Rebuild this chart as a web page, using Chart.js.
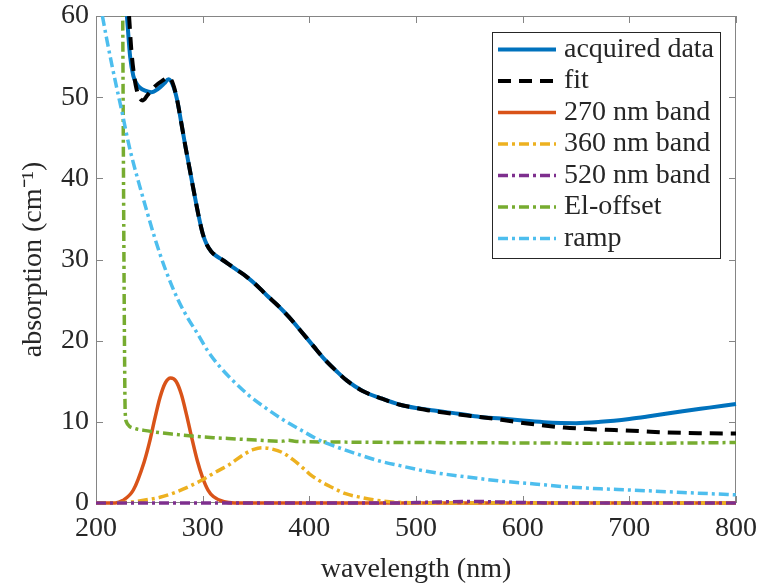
<!DOCTYPE html>
<html>
<head>
<meta charset="utf-8">
<script src="https://cdn.jsdelivr.net/npm/chart.js@4.4.1/dist/chart.umd.min.js"></script>
<style>
html, body { margin: 0; padding: 0; background: #fff; }
#wrap { width: 758px; height: 584px; }
</style>
</head>
<body>
<div id="wrap"><canvas id="myChart" width="758" height="584"></canvas></div>
<script>
const xTicks = [200, 300, 400, 500, 600, 700, 800];
const yTicks = [0, 10, 20, 30, 40, 50, 60];

const acqNm  = [229, 232, 235, 238, 241, 246, 252, 258, 264, 268, 272, 276, 280, 284, 288, 292, 296, 300, 304, 308, 312, 318, 330, 341, 350, 360, 370, 381, 392, 404, 415, 425, 435, 450, 467, 485, 500, 517, 540, 560, 580, 600, 620, 636, 650, 673, 700, 717, 750, 775, 800];
const acqVal = [60, 55, 52.6, 51.7, 51.2, 50.8, 50.6, 51.0, 51.7, 52.2, 51.5, 49.7, 46.8, 43.8, 41.0, 38.2, 35.5, 33.2, 31.8, 31.0, 30.5, 30.0, 28.9, 27.9, 26.9, 25.6, 24.4, 22.9, 21.2, 19.3, 17.6, 16.3, 15.1, 13.8, 12.9, 12.1, 11.7, 11.4, 11.0, 10.6, 10.4, 10.15, 9.95, 9.86, 9.84, 10.0, 10.35, 10.65, 11.3, 11.75, 12.2];

const fitNm  = [231, 233, 235, 238, 241, 244, 248, 255, 262, 268, 272, 276, 280, 284, 288, 292, 296, 300, 304, 308, 312, 318, 330, 341, 350, 360, 370, 381, 392, 404, 415, 425, 435, 450, 467, 485, 500, 517, 540, 560, 580, 598, 617, 639, 664, 686, 710, 733, 765, 800];
const fitVal = [60, 56, 53.4, 51.0, 49.9, 49.6, 50.2, 51.3, 52.0, 52.4, 51.7, 49.7, 46.8, 43.8, 41.0, 38.2, 35.5, 33.2, 31.8, 31.0, 30.5, 30.0, 28.9, 27.9, 26.9, 25.6, 24.4, 22.9, 21.2, 19.3, 17.6, 16.3, 15.1, 13.8, 12.9, 12.1, 11.7, 11.3, 10.9, 10.6, 10.25, 9.9, 9.6, 9.3, 9.1, 8.98, 8.85, 8.7, 8.6, 8.55];

const b270Nm  = [200, 218, 225, 235, 245, 250, 255, 260, 265, 270, 275, 280, 285, 290, 295, 300, 305, 310, 320, 330, 800];
const b270Val = [0, 0, 0.3, 1.6, 5.0, 7.4, 10.3, 13.0, 14.8, 15.4, 15.0, 13.4, 10.8, 7.9, 5.2, 3.1, 1.6, 0.8, 0.15, 0, 0];

const b360Nm  = [200, 230, 250, 260, 271, 285, 299, 312, 324, 340, 348, 356, 365, 375, 385, 395, 400, 410, 420, 434, 448, 460, 475, 490, 510, 800];
const b360Val = [0, 0.1, 0.45, 0.7, 1.15, 1.9, 2.8, 3.8, 4.65, 6.1, 6.6, 6.8, 6.65, 6.2, 5.3, 4.2, 3.6, 2.7, 2.0, 1.15, 0.7, 0.4, 0.15, 0.05, 0, 0];

const b520Nm  = [200, 480, 510, 530, 550, 570, 600, 640, 800];
const b520Val = [0, 0, 0.08, 0.15, 0.2, 0.15, 0.06, 0, 0];

const elNm  = [225, 225.6, 226.2, 226.8, 227.3, 228.5, 231, 236, 245, 255, 271, 290, 310, 324, 350, 374, 380, 386, 400, 434, 500, 600, 700, 800];
const elVal = [62, 45, 30, 18, 11.5, 10.0, 9.5, 9.2, 8.95, 8.75, 8.5, 8.25, 8.05, 7.95, 7.75, 7.6, 7.72, 7.62, 7.55, 7.5, 7.45, 7.4, 7.35, 7.45];

const rampNm  = [206, 210, 215, 220, 225, 230, 235, 240, 248, 255, 265, 277, 286, 295, 305, 316, 329, 343, 357, 375, 392, 410, 430, 448, 465, 485, 510, 548, 580, 611, 640, 673, 701, 750, 800];
const rampVal = [60, 57.2, 53.9, 50.8, 47.8, 44.6, 41.9, 39.5, 35.8, 32.7, 28.8, 25.0, 22.8, 20.9, 18.7, 16.8, 15.0, 13.3, 11.9, 10.3, 9.0, 7.7, 6.7, 5.9, 5.2, 4.6, 3.9, 3.2, 2.7, 2.35, 2.0, 1.75, 1.6, 1.3, 1.0];

const serif = '"Liberation Serif", "Times New Roman", serif';
const textColor = '#262626';
const axisColor = '#858585';
const fontSize = 28;

function pts(xs, ys) {
    return xs.map((v, i) => ({x: v, y: ys[i]}));
}

function series(label, xs, ys, color, width, dash, order) {
    return {
        label: label,
        data: pts(xs, ys),
        borderColor: color,
        backgroundColor: color,
        borderWidth: width,
        borderDash: dash,
        pointRadius: 0,
        fill: false,
        cubicInterpolationMode: 'monotone',
        clip: {left: 0, top: 0, right: 3, bottom: 3},
        order: order
    };
}

const dashDot = [10, 4, 3, 4];

// box with inward ticks on all four sides (under the lines), legend inside the axes
const matlabFrame = {
    id: 'matlabFrame',
    beforeDatasetsDraw(chart) {
        const ctx = chart.ctx;
        const a = chart.chartArea;
        const x = chart.scales.x, y = chart.scales.y;
        ctx.save();
        ctx.strokeStyle = axisColor;
        ctx.lineWidth = 1;
        ctx.beginPath();
        xTicks.forEach(v => {
            const px = Math.round(x.getPixelForValue(v)) + 0.5;
            ctx.moveTo(px, a.bottom); ctx.lineTo(px, a.bottom - 7);
            ctx.moveTo(px, a.top); ctx.lineTo(px, a.top + 7);
        });
        yTicks.forEach(v => {
            const py = Math.round(y.getPixelForValue(v)) + 0.5;
            ctx.moveTo(a.left, py); ctx.lineTo(a.left + 7, py);
            ctx.moveTo(a.right, py); ctx.lineTo(a.right - 7, py);
        });
        ctx.stroke();
        ctx.strokeRect(Math.round(a.left) + 0.5, Math.round(a.top) + 0.5, Math.round(a.width) - 1, Math.round(a.height) - 1);
        ctx.restore();
    },
    afterDraw(chart) {
        const ctx = chart.ctx;
        const a = chart.chartArea;
        const sets = chart.data.datasets;
        const boxL = a.right - 244, boxT = a.top + 16, boxW = 228, boxH = 226;
        ctx.save();
        ctx.fillStyle = '#fff';
        ctx.fillRect(boxL, boxT, boxW, boxH);
        ctx.strokeStyle = textColor;
        ctx.lineWidth = 1;
        ctx.strokeRect(Math.round(boxL) + 0.5, Math.round(boxT) + 0.5, boxW, boxH);
        ctx.font = fontSize + 'px ' + serif;
        ctx.textBaseline = 'middle';
        ctx.textAlign = 'left';
        sets.forEach((ds, i) => {
            const ry = boxT + 17.5 + i * 31.5;
            ctx.beginPath();
            ctx.strokeStyle = ds.borderColor;
            ctx.lineWidth = ds.borderWidth;
            ctx.setLineDash(ds.borderDash || []);
            ctx.moveTo(boxL + 6, ry);
            ctx.lineTo(boxL + 64, ry);
            ctx.stroke();
            ctx.setLineDash([]);
            ctx.fillStyle = textColor;
            ctx.fillText(ds.label, boxL + 72, ry);
        });
        ctx.restore();
    }
};

const ctx = document.getElementById('myChart').getContext('2d');
const chart = new Chart(ctx, {
    type: 'line',
    data: {
        datasets: [
            series('acquired data', acqNm, acqVal, '#0072BD', 4, [], 7),
            series('fit', fitNm, fitVal, '#000000', 4, [13, 8], 6),
            series('270 nm band', b270Nm, b270Val, '#D95319', 3.5, [], 5),
            series('360 nm band', b360Nm, b360Val, '#EDB120', 3.5, dashDot, 4),
            series('520 nm band', b520Nm, b520Val, '#7E2F8E', 3.5, dashDot, 3),
            series('El-offset', elNm, elVal, '#77AC30', 3.5, dashDot, 2),
            series('ramp', rampNm, rampVal, '#4DBEEE', 3.5, dashDot, 1)
        ]
    },
    options: {
        responsive: false,
        animation: false,
        events: [],
        layout: {
            padding: {left: 0, right: 22, top: 16, bottom: 0}
        },
        scales: {
            x: {
                type: 'linear',
                min: 200,
                max: 800,
                afterBuildTicks: s => { s.ticks = xTicks.map(v => ({value: v})); },
                afterFit: s => { s.height = 81; s.paddingLeft = 0; s.paddingRight = 0; },
                grid: {display: false, drawTicks: false},
                border: {display: false},
                ticks: {
                    color: textColor,
                    font: {family: serif, size: fontSize},
                    padding: 9,
                    maxRotation: 0
                },
                title: {
                    display: true,
                    text: 'wavelength (nm)',
                    color: textColor,
                    font: {family: serif, size: fontSize, lineHeight: 1},
                    padding: {top: 0, bottom: 0}
                }
            },
            y: {
                type: 'linear',
                min: 0,
                max: 60,
                afterBuildTicks: s => { s.ticks = yTicks.map(v => ({value: v})); },
                afterFit: s => { s.width = 96; s.paddingTop = 0; s.paddingBottom = 0; },
                grid: {display: false, drawTicks: false},
                border: {display: false},
                ticks: {
                    color: textColor,
                    font: {family: serif, size: fontSize},
                    padding: 7
                },
                title: {
                    display: true,
                    text: 'absorption (cm\u207B\u00B9)',
                    color: textColor,
                    font: {family: serif, size: fontSize, lineHeight: 1},
                    padding: {top: 20, bottom: 0}
                }
            }
        },
        plugins: {
            legend: {display: false},
            tooltip: {enabled: false}
        }
    },
    plugins: [matlabFrame]
});
</script>
</body>
</html>
